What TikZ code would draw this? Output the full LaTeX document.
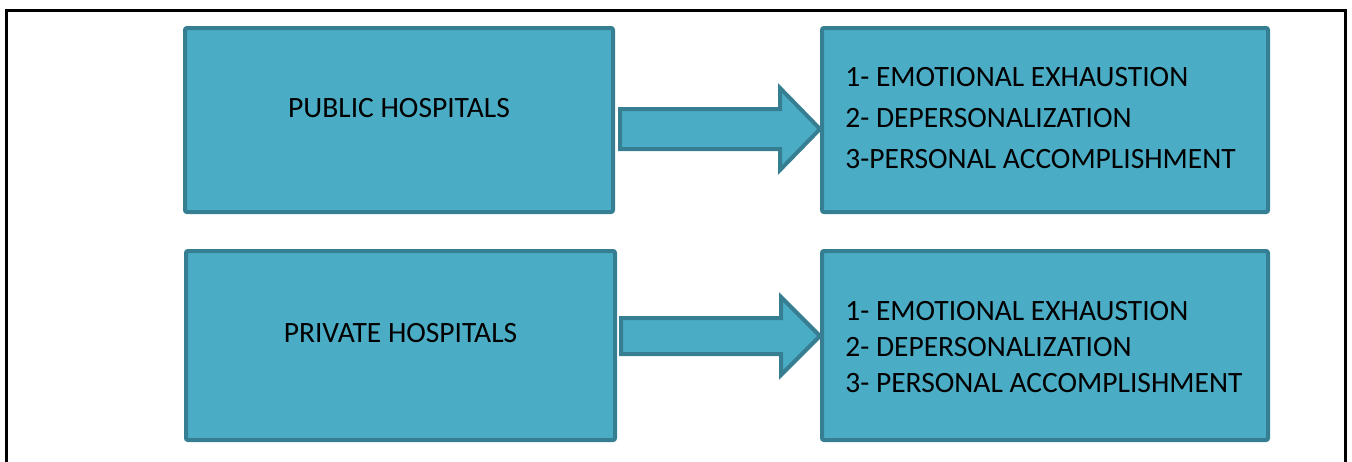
\documentclass[tikz,border=0pt]{standalone}
\usepackage{fontspec}
\setmainfont{Carlito}
\usetikzlibrary{positioning}
\definecolor{boxfill}{HTML}{4BACC6}
\definecolor{boxline}{HTML}{367E91}

\begin{document}
\begin{tikzpicture}[x=1pt,y=-1pt,thick,
    hbox/.style={rectangle,rounded corners=2pt,draw=boxline,fill=boxfill,line width=4pt,inner sep=0pt,font=\fontsize{29.5}{35}\selectfont},
    blockarrow/.style={draw=boxline,fill=boxfill,line width=4pt,line join=miter},
    listtext/.style={anchor=west,align=left,inner sep=0pt}]

                \useasboundingbox (0,0) rectangle (1352,461);
                \draw[line width=3pt] (6.5,475) -- (6.5,10) -- (1345,10) -- (1345,475);

                \node[hbox, minimum width=428pt, minimum height=184pt] (pub) at (399,120) {\raisebox{24pt}{PUBLIC HOSPITALS}};
                \node[hbox, minimum width=446pt, minimum height=184pt] (res1) at (1045,120) {};
                \node[hbox, minimum width=429pt, minimum height=189pt] (priv) at (400.5,345.5) {\raisebox{26pt}{PRIVATE HOSPITALS}};
                \node[hbox, minimum width=446pt, minimum height=189pt] (res2) at (1045,345.5) {};

                \node[listtext, font=\fontsize{29.5}{41}\selectfont] (list1) at (845,118) {1- EMOTIONAL EXHAUSTION\\2- DEPERSONALIZATION\\3-PERSONAL ACCOMPLISHMENT};
                \node[listtext, font=\fontsize{29.5}{36}\selectfont] (list2) at (845,347) {1- EMOTIONAL EXHAUSTION\\2- DEPERSONALIZATION\\3- PERSONAL ACCOMPLISHMENT};

                \coordinate (a1) at (620,129);
                \coordinate (a2) at (621,336);

                \draw[blockarrow] (a1) ++(0,-20) -- ++(160,0) -- ++(0,-21) -- ++(40,41) -- ++(-40,41) -- ++(0,-21) -- ++(-160,0) -- cycle;
                \draw[blockarrow] (a2) ++(0,-18) -- ++(160,0) -- ++(0,-21) -- ++(39,39) -- ++(-39,39) -- ++(0,-21) -- ++(-160,0) -- cycle;

                ;
            \end{tikzpicture}
\end{document}
